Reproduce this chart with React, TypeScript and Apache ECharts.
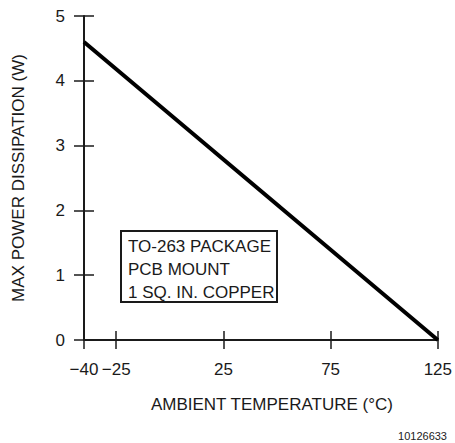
import React, { useEffect, useRef } from "react";
import * as echarts from "echarts";

const temperatures = [-40, 125];
const maxPower = [4.6, 0];
const xTicks = [-40, -25, 25, 75, 125];
const yTicks = [0, 1, 2, 3, 4, 5];
const boxLines = ["TO-263 PACKAGE", "PCB MOUNT", "1 SQ. IN. COPPER"];
const xTitle = "AMBIENT TEMPERATURE (°C)";
const yTitle = "MAX POWER DISSIPATION (W)";
const figureId = "10126633";

const FONT = "'Liberation Sans', Arial, sans-serif";
const INK = "#1a1a1a";

export default function App() {
  const ref = useRef<HTMLDivElement>(null);
  useEffect(() => {
    if (!ref.current) return;
    const chart = echarts.init(ref.current, undefined, { renderer: "svg" });
    const axisLine = { show: true, onZero: false, lineStyle: { color: INK, width: 2 } };
    const tickStyle = { color: INK, width: 1.5 };
    chart.setOption({
      animation: false,
      backgroundColor: "#ffffff",
      grid: { left: 84, right: 14, top: 16, bottom: 103 },
      xAxis: [
        {
          type: "value",
          min: -40,
          max: 125,
          axisLine,
          axisTick: { show: true, inside: false, length: 9, customValues: xTicks, lineStyle: tickStyle },
          axisLabel: {
            customValues: xTicks,
            margin: 21,
            fontSize: 17,
            color: INK,
            fontFamily: FONT,
            formatter: (v: number) => (v < 0 ? "\u2212" + Math.abs(v) : String(v)),
          },
          splitLine: { show: false },
          name: xTitle,
          nameLocation: "middle",
          nameGap: 56,
          nameTextStyle: { fontSize: 17, color: INK, fontFamily: FONT, padding: [0, 0, 0, 22] },
        },
        {
          type: "value",
          min: -40,
          max: 125,
          position: "bottom",
          axisLine: { show: false, onZero: false },
          axisTick: { show: true, inside: true, length: 9, customValues: xTicks, lineStyle: tickStyle },
          axisLabel: { show: false },
          splitLine: { show: false },
        },
      ],
      yAxis: [
        {
          type: "value",
          min: 0,
          max: 5,
          interval: 1,
          axisLine,
          axisTick: { show: true, inside: false, length: 10, customValues: yTicks, lineStyle: tickStyle },
          axisLabel: { customValues: yTicks, margin: 19, fontSize: 17, color: INK, fontFamily: FONT },
          splitLine: { show: false },
          name: yTitle,
          nameLocation: "middle",
          nameGap: 57,
          nameTextStyle: { fontSize: 17, color: INK, fontFamily: FONT },
        },
        {
          type: "value",
          min: 0,
          max: 5,
          interval: 1,
          position: "left",
          axisLine: { show: false, onZero: false },
          axisTick: { show: true, inside: true, length: 10, customValues: yTicks, lineStyle: tickStyle },
          axisLabel: { show: false },
          splitLine: { show: false },
        },
      ],
      series: [
        {
          type: "line",
          data: temperatures.map((t, i) => [t, maxPower[i]]),
          symbol: "none",
          lineStyle: { color: "#000", width: 4 },
          silent: true,
        },
      ],
      graphic: [
        {
          type: "rect",
          shape: { x: 121, y: 231, width: 156, height: 71 },
          style: { fill: "#fff", stroke: INK, lineWidth: 2 },
        },
        ...boxLines.map((line, i) => ({
          type: "text",
          x: 128,
          y: 246 + i * 23,
          style: {
            text: line,
            fontSize: 17,
            fontFamily: FONT,
            fill: INK,
            textAlign: "left",
            textVerticalAlign: "middle",
          },
        })),
        {
          type: "text",
          x: 447,
          y: 436,
          style: {
            text: figureId,
            fontSize: 11,
            fontFamily: FONT,
            fill: "#222",
            textAlign: "right",
            textVerticalAlign: "middle",
          },
        },
      ],
    });
    return () => chart.dispose();
  }, []);
  return (
    <div
      ref={ref}
      style={{ position: "absolute", left: 0, top: 0, width: 455, height: 443 }}
    />
  );
}
